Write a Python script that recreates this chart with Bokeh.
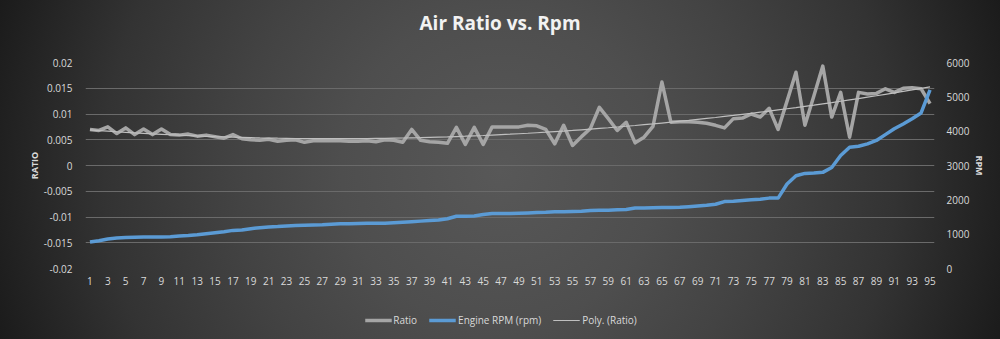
import numpy as np
from bokeh.plotting import figure
from bokeh.layouts import column
from bokeh.models import (Range1d, LinearAxis, FixedTicker, CustomJSTickFormatter,
                          Legend, LegendItem)
from bokeh.core.properties import value
from bokeh.embed import file_html
from bokeh.resources import INLINE

# ---------------- data ----------------
title_text = "Air Ratio vs. Rpm"
index = list(range(1, 96))
ratio = [0.0070, 0.0068, 0.0075, 0.0062, 0.0073, 0.0060, 0.0071, 0.0060, 0.0071, 0.0060,
         0.0059, 0.0061, 0.0057, 0.0059, 0.0056, 0.0053, 0.0060, 0.0052, 0.0050, 0.0049,
         0.0051, 0.0047, 0.0049, 0.0050, 0.0045, 0.0048, 0.0048, 0.0048, 0.0048, 0.0047,
         0.0047, 0.0048, 0.0046, 0.0050, 0.0049, 0.0045, 0.0070, 0.0049, 0.0046, 0.0045,
         0.0043, 0.0074, 0.0041, 0.0074, 0.0041, 0.0075, 0.0075, 0.0075, 0.0075, 0.0078,
         0.0077, 0.0070, 0.0042, 0.0078, 0.0039, 0.0056, 0.0072, 0.0113, 0.0091, 0.0068,
         0.0084, 0.0044, 0.0055, 0.0076, 0.0162, 0.0084, 0.0085, 0.0085, 0.0084, 0.0082,
         0.0078, 0.0073, 0.0091, 0.0092, 0.0100, 0.0094, 0.0111, 0.0070, 0.0125, 0.0181,
         0.0078, 0.0135, 0.0193, 0.0094, 0.0142, 0.0055, 0.0142, 0.0139, 0.0140, 0.0149,
         0.0142, 0.0150, 0.0151, 0.0149, 0.0120]
rpm = [770, 810, 860, 890, 900, 910, 920, 920, 920, 925,
       950, 960, 980, 1010, 1040, 1070, 1110, 1120, 1160, 1190,
       1210, 1220, 1240, 1250, 1260, 1270, 1275, 1290, 1300, 1305,
       1310, 1320, 1320, 1320, 1330, 1345, 1360, 1380, 1400, 1410,
       1450, 1520, 1520, 1530, 1570, 1600, 1600, 1605, 1610, 1620,
       1630, 1635, 1650, 1650, 1660, 1665, 1690, 1695, 1700, 1710,
       1720, 1760, 1765, 1770, 1775, 1780, 1785, 1800, 1820, 1840,
       1870, 1950, 1960, 1980, 2000, 2020, 2050, 2050, 2460, 2700,
       2770, 2780, 2800, 2940, 3290, 3530, 3560, 3630, 3730, 3900,
       4070, 4210, 4360, 4530, 5200]
left_ticks = [-0.02, -0.015, -0.01, -0.005, 0, 0.005, 0.01, 0.015, 0.02]
right_ticks = [0, 1000, 2000, 3000, 4000, 5000, 6000]
x_ticks = list(range(1, 96, 2))
series_names = ["Ratio", "Engine RPM (rpm)", "Poly. (Ratio)"]

# polynomial (order 2) trendline of Ratio, as Excel computes it
coef = np.polyfit(index, ratio, 2)
poly = list(np.polyval(coef, index))

FONT = "Open Sans"
TXT = "#d9d9d9"
C_RATIO, C_RPM, C_POLY = "#a5a5a5", "#5b9bd5", "#bfbfbf"


def bare(fig):
    fig.background_fill_alpha = 0
    fig.border_fill_alpha = 0
    fig.outline_line_color = None
    fig.min_border = 0
    fig.min_border_left = 0
    fig.min_border_right = 0
    fig.min_border_top = 0
    fig.min_border_bottom = 0


# ---------- title strip ----------
t = figure(width=980, height=40, output_backend="svg", toolbar_location=None,
           x_range=Range1d(0, 1), y_range=Range1d(0, 1),
           x_axis_location=None, y_axis_location=None)
bare(t)
t.grid.visible = False
t.text(x=[0.5], y=[0.45], text=[title_text], text_align="center", text_baseline="middle",
       text_font=value(FONT), text_font_size="19px", text_font_style="bold",
       text_color="#f2f2f2")

# ---------- main chart ----------
p = figure(width=1000, height=261, output_backend="svg", toolbar_location=None,
           x_range=Range1d(0.5, 95.5), y_range=Range1d(-0.02, 0.02))
bare(p)
p.min_border_left = 85
p.min_border_right = 66
p.min_border_top = 22
p.min_border_bottom = 33

p.extra_y_ranges = {"rpm": Range1d(0, 6000)}

p.xgrid.visible = False
p.ygrid.grid_line_color = "#6a6a6a"
p.ygrid.grid_line_width = 1

ya = p.yaxis[0]
ya.ticker = FixedTicker(ticks=left_ticks)
ya.formatter = CustomJSTickFormatter(code="return tick.toString();")
ya.axis_label = "RATIO"

ra = LinearAxis(y_range_name="rpm", ticker=FixedTicker(ticks=right_ticks), axis_label="RPM")
p.add_layout(ra, "right")

xa = p.xaxis[0]
xa.ticker = FixedTicker(ticks=x_ticks)

for ax in [ya, ra, xa]:
    ax.axis_line_color = None
    ax.major_tick_line_color = None
    ax.minor_tick_line_color = None
    ax.major_label_text_color = TXT
    ax.major_label_text_font = FONT
    ax.major_label_text_font_size = "10px"
    ax.axis_label_text_color = TXT
    ax.axis_label_text_font = FONT
    ax.axis_label_text_font_size = "9px"
    ax.axis_label_text_font_style = "bold"
ya.major_label_standoff = 7
ya.axis_label_standoff = 0
ra.major_label_standoff = 6
ra.axis_label_standoff = 1
xa.major_label_standoff = 2

p.line(index, ratio, line_color=C_RATIO, line_width=3.5, line_join="round")
p.line(index, rpm, y_range_name="rpm", line_color=C_RPM, line_width=3.5, line_join="round")
p.line(index, poly, line_color=C_POLY, line_width=1.2)

# ---------- legend strip (proxies lie outside its visible range) ----------
lg = figure(width=982, height=38, output_backend="svg", toolbar_location=None,
            x_range=Range1d(-20, -10), y_range=Range1d(0, 1),
            x_axis_location=None, y_axis_location=None)
bare(lg)
lg.grid.visible = False
g1 = lg.line(index, ratio, line_color=C_RATIO, line_width=3.5)
g2 = lg.line(index, rpm, line_color=C_RPM, line_width=3.5)
g3 = lg.line(index, poly, line_color=C_POLY, line_width=1.2)
legend = Legend(items=[LegendItem(label=series_names[0], renderers=[g1]),
                       LegendItem(label=series_names[1], renderers=[g2]),
                       LegendItem(label=series_names[2], renderers=[g3])],
                orientation="horizontal", location="center")
legend.background_fill_alpha = 0
legend.border_line_color = None
legend.label_text_color = TXT
legend.label_text_font = FONT
legend.label_text_font_size = "10px"
legend.glyph_width = 27
legend.glyph_height = 14
legend.label_standoff = 2
legend.spacing = 12
legend.padding = 4
legend.margin = 0
lg.add_layout(legend, "center")

layout = column(t, p, lg, spacing=0)
layout.styles = {"background": "radial-gradient(circle at 50% 50%, #585858 0%, #4e4e4e 30%, "
                               "#434343 50%, #333333 75%, #1b1b1b 100%)"}

open("out.html", "w").write(file_html(layout, INLINE))
